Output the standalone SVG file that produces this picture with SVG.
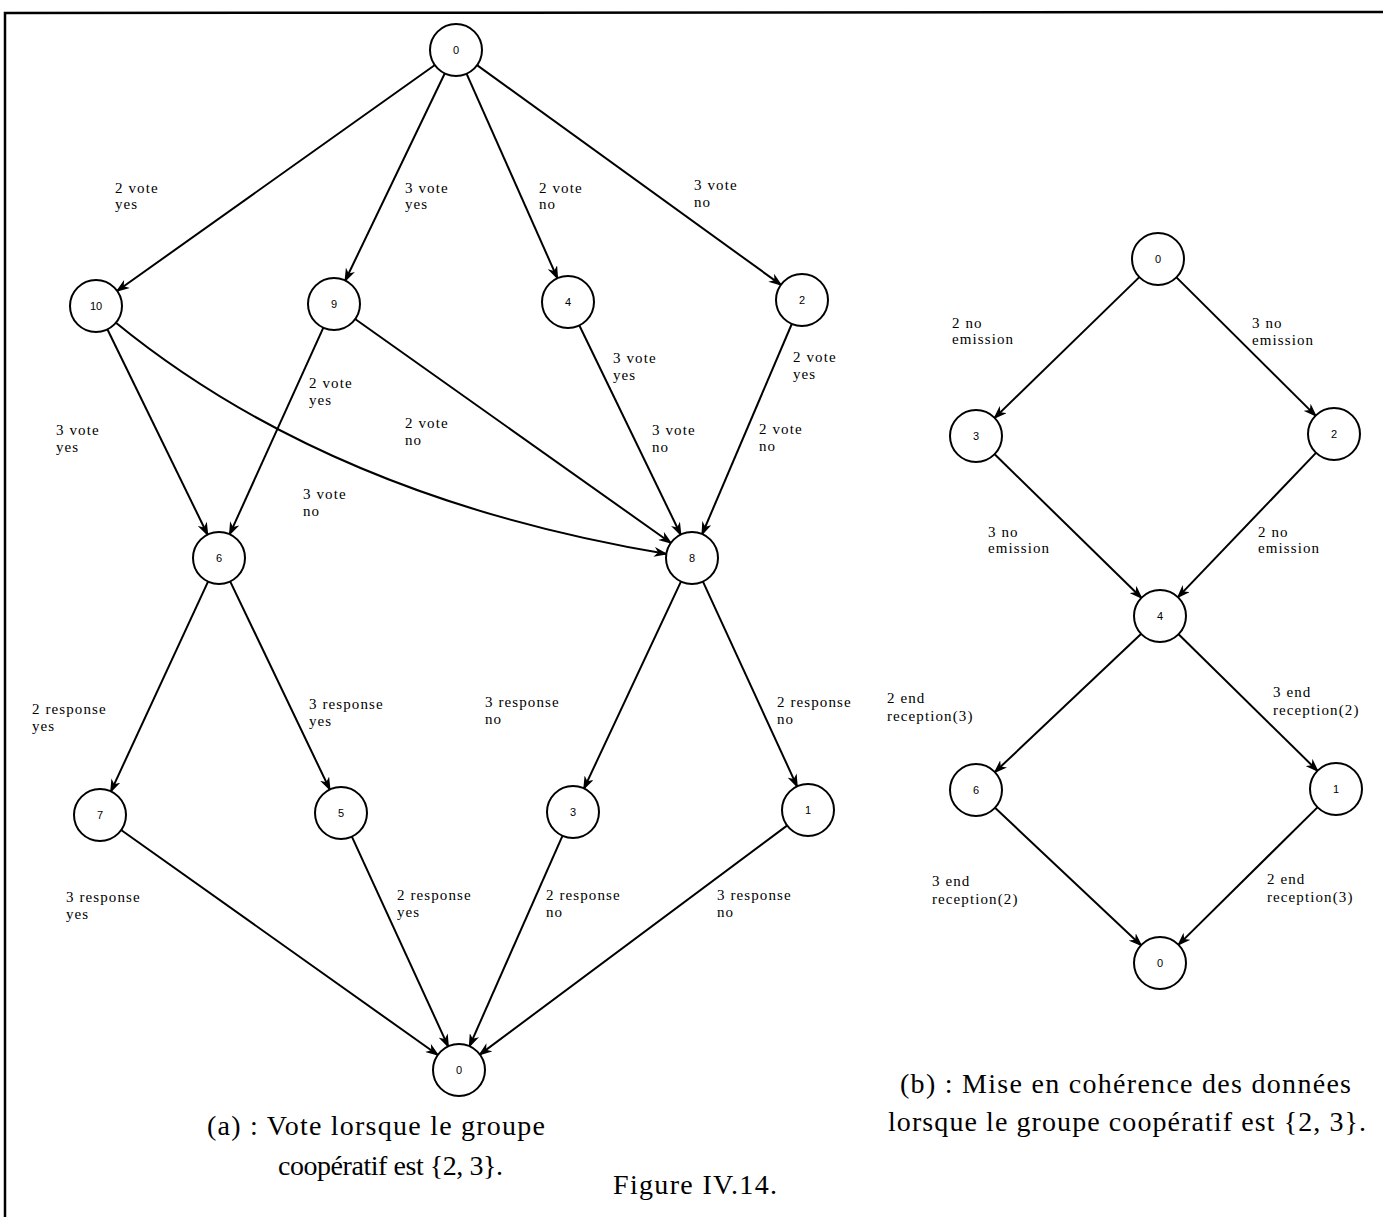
<svg xmlns="http://www.w3.org/2000/svg" width="1391" height="1217" viewBox="0 0 1391 1217">
<style>
.nd{fill:#fff;stroke:#000;stroke-width:2}
.nt{font-family:"Liberation Sans",Arial,sans-serif;font-size:11px;text-anchor:middle;fill:#000}
.lb{font-family:"Liberation Serif","Times New Roman",serif;font-size:15px;letter-spacing:1.1px;fill:#000}
.cap{font-family:"Liberation Serif","Times New Roman",serif;font-size:28px;fill:#000}
.e{fill:none;stroke:#000;stroke-width:2;marker-end:url(#ah)}
</style>
<defs>
<marker id="ah" markerUnits="userSpaceOnUse" viewBox="0 0 14 10" markerWidth="14" markerHeight="10" refX="13" refY="5" orient="auto">
<path d="M0,0 L14,5 L0,10 L4,5 z" fill="#000"/>
</marker>
</defs>
<rect width="1391" height="1217" fill="#fff"/>
<polyline points="5,1217 5,13 1383,12" fill="none" stroke="#000" stroke-width="2.5"/>
<g id="connectors">
<line class="e" x1="435.6" y1="64.5" x2="116.4" y2="291.5"/>
<line class="e" x1="445.2" y1="72.5" x2="344.8" y2="281.5"/>
<line class="e" x1="466.2" y1="72.8" x2="557.8" y2="279.2"/>
<line class="e" x1="476.3" y1="64.6" x2="781.7" y2="285.4"/>
<line class="e" x1="107" y1="328.5" x2="208" y2="535.5"/>
<path class="e" d="M115,322 Q330,498 667,554"/>
<line class="e" x1="323.7" y1="326.8" x2="229.3" y2="535.2"/>
<line class="e" x1="354.4" y1="318.5" x2="671.6" y2="543.5"/>
<line class="e" x1="578.9" y1="324.5" x2="681.1" y2="535.5"/>
<line class="e" x1="792.2" y1="323" x2="701.8" y2="535"/>
<line class="e" x1="208.5" y1="580.7" x2="110.5" y2="792.3"/>
<line class="e" x1="229.8" y1="580.6" x2="330.2" y2="790.4"/>
<line class="e" x1="681.4" y1="580.6" x2="583.6" y2="789.4"/>
<line class="e" x1="702.5" y1="580.7" x2="797.5" y2="787.3"/>
<line class="e" x1="120.4" y1="829.5" x2="438.6" y2="1055.5"/>
<line class="e" x1="351.4" y1="835.7" x2="448.6" y2="1047.3"/>
<line class="e" x1="562.9" y1="834.9" x2="469.1" y2="1047.1"/>
<line class="e" x1="788" y1="824.9" x2="479" y2="1055.1"/>
<line class="e" x1="1140.1" y1="276.4" x2="993.9" y2="418.6"/>
<line class="e" x1="1175.7" y1="276.6" x2="1316.3" y2="416.4"/>
<line class="e" x1="993.9" y1="453.5" x2="1142.1" y2="598.5"/>
<line class="e" x1="1316.7" y1="452.1" x2="1177.3" y2="597.9"/>
<line class="e" x1="1141.8" y1="633.2" x2="994.2" y2="772.8"/>
<line class="e" x1="1177.8" y1="633.5" x2="1318.2" y2="771.5"/>
<line class="e" x1="994.2" y1="807.1" x2="1141.8" y2="945.9"/>
<line class="e" x1="1318.2" y1="806.6" x2="1177.8" y2="945.4"/>
</g>
<g id="edge-labels">
<text class="lb" x="115" y="193">2 vote<tspan x="115" dy="16">yes</tspan></text>
<text class="lb" x="405" y="193">3 vote<tspan x="405" dy="16">yes</tspan></text>
<text class="lb" x="539" y="193">2 vote<tspan x="539" dy="16">no</tspan></text>
<text class="lb" x="694" y="190">3 vote<tspan x="694" dy="17">no</tspan></text>
<text class="lb" x="56" y="435">3 vote<tspan x="56" dy="17">yes</tspan></text>
<text class="lb" x="309" y="388">2 vote<tspan x="309" dy="17">yes</tspan></text>
<text class="lb" x="405" y="428">2 vote<tspan x="405" dy="17">no</tspan></text>
<text class="lb" x="303" y="499">3 vote<tspan x="303" dy="17">no</tspan></text>
<text class="lb" x="613" y="363">3 vote<tspan x="613" dy="17">yes</tspan></text>
<text class="lb" x="652" y="435">3 vote<tspan x="652" dy="17">no</tspan></text>
<text class="lb" x="793" y="362">2 vote<tspan x="793" dy="17">yes</tspan></text>
<text class="lb" x="759" y="434">2 vote<tspan x="759" dy="17">no</tspan></text>
<text class="lb" x="32" y="714">2 response<tspan x="32" dy="17">yes</tspan></text>
<text class="lb" x="309" y="709">3 response<tspan x="309" dy="17">yes</tspan></text>
<text class="lb" x="485" y="707">3 response<tspan x="485" dy="17">no</tspan></text>
<text class="lb" x="777" y="707">2 response<tspan x="777" dy="17">no</tspan></text>
<text class="lb" x="66" y="902">3 response<tspan x="66" dy="17">yes</tspan></text>
<text class="lb" x="397" y="900">2 response<tspan x="397" dy="17">yes</tspan></text>
<text class="lb" x="546" y="900">2 response<tspan x="546" dy="17">no</tspan></text>
<text class="lb" x="717" y="900">3 response<tspan x="717" dy="17">no</tspan></text>
<text class="lb" x="952" y="328">2 no<tspan x="952" dy="16">emission</tspan></text>
<text class="lb" x="1252" y="328">3 no<tspan x="1252" dy="17">emission</tspan></text>
<text class="lb" x="988" y="537">3 no<tspan x="988" dy="16">emission</tspan></text>
<text class="lb" x="1258" y="537">2 no<tspan x="1258" dy="16">emission</tspan></text>
<text class="lb" x="887" y="703">2 end<tspan x="887" dy="18">reception(3)</tspan></text>
<text class="lb" x="1273" y="697">3 end<tspan x="1273" dy="18">reception(2)</tspan></text>
<text class="lb" x="932" y="886">3 end<tspan x="932" dy="18">reception(2)</tspan></text>
<text class="lb" x="1267" y="884">2 end<tspan x="1267" dy="18">reception(3)</tspan></text>
</g>
<g id="a0"><circle class="nd" cx="456" cy="50" r="26"/><text class="nt" x="456" y="54">0</text></g>
<g id="a10"><circle class="nd" cx="96" cy="306" r="26"/><text class="nt" x="96" y="310">10</text></g>
<g id="a9"><circle class="nd" cx="334" cy="304" r="26"/><text class="nt" x="334" y="308">9</text></g>
<g id="a4"><circle class="nd" cx="568" cy="302" r="26"/><text class="nt" x="568" y="306">4</text></g>
<g id="a2"><circle class="nd" cx="802" cy="300" r="26"/><text class="nt" x="802" y="304">2</text></g>
<g id="a6"><circle class="nd" cx="219" cy="558" r="26"/><text class="nt" x="219" y="562">6</text></g>
<g id="a8"><circle class="nd" cx="692" cy="558" r="26"/><text class="nt" x="692" y="562">8</text></g>
<g id="a7"><circle class="nd" cx="100" cy="815" r="26"/><text class="nt" x="100" y="819">7</text></g>
<g id="a5"><circle class="nd" cx="341" cy="813" r="26"/><text class="nt" x="341" y="817">5</text></g>
<g id="a3"><circle class="nd" cx="573" cy="812" r="26"/><text class="nt" x="573" y="816">3</text></g>
<g id="a1"><circle class="nd" cx="808" cy="810" r="26"/><text class="nt" x="808" y="814">1</text></g>
<g id="a0b"><circle class="nd" cx="459" cy="1070" r="26"/><text class="nt" x="459" y="1074">0</text></g>
<g id="b0"><circle class="nd" cx="1158" cy="259" r="26"/><text class="nt" x="1158" y="263">0</text></g>
<g id="b3"><circle class="nd" cx="976" cy="436" r="26"/><text class="nt" x="976" y="440">3</text></g>
<g id="b2"><circle class="nd" cx="1334" cy="434" r="26"/><text class="nt" x="1334" y="438">2</text></g>
<g id="b4"><circle class="nd" cx="1160" cy="616" r="26"/><text class="nt" x="1160" y="620">4</text></g>
<g id="b6"><circle class="nd" cx="976" cy="790" r="26"/><text class="nt" x="976" y="794">6</text></g>
<g id="b1"><circle class="nd" cx="1336" cy="789" r="26"/><text class="nt" x="1336" y="793">1</text></g>
<g id="b0b"><circle class="nd" cx="1160" cy="963" r="26"/><text class="nt" x="1160" y="967">0</text></g>
<g id="captions">
<text class="cap" x="207" y="1135" textLength="338" lengthAdjust="spacing">(a) : Vote lorsque le groupe</text>
<text class="cap" x="278" y="1175" textLength="225" lengthAdjust="spacing">coopératif est {2, 3}.</text>
<text class="cap" x="613" y="1194" textLength="164" lengthAdjust="spacing">Figure IV.14.</text>
<text class="cap" x="900" y="1093" textLength="451" lengthAdjust="spacing">(b) : Mise en cohérence des données</text>
<text class="cap" x="888" y="1131" textLength="478" lengthAdjust="spacing">lorsque le groupe coopératif est {2, 3}.</text>
</g>
</svg>
